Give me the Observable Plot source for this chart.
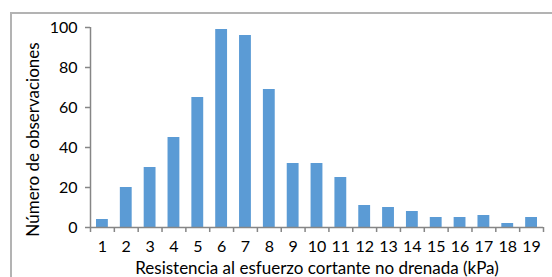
<!DOCTYPE html>
<html>
<head>
<meta charset="utf-8">
<script src="https://cdn.jsdelivr.net/npm/d3@7"></script>
<script src="https://cdn.jsdelivr.net/npm/@observablehq/plot@0.6"></script>
<style>
  html, body { margin: 0; padding: 0; background: #fff; }
  #wrap { position: relative; width: 552px; height: 277px; overflow: hidden; }
  #border { position: absolute; left: 10px; top: 12px; width: 600px; height: 300px;
            border-left: 2px solid #b3b3b3; border-top: 2px solid #b3b3b3; box-sizing: border-box; }
</style>
</head>
<body>
<div id="wrap"><div id="border"></div></div>
<script>
const categories = [1,2,3,4,5,6,7,8,9,10,11,12,13,14,15,16,17,18,19];
const counts = [4,20,30,45,65,99,96,69,32,32,25,11,10,8,5,5,6,2,5];
const yTicks = [0,20,40,60,80,100];
const xLabel = "Resistencia al esfuerzo cortante no drenada (kPa)";
const yLabel = "Número de observaciones";

const data = categories.map((k, i) => ({k, n: counts[i]}));
const boundaries = d3.range(categories[0] - 0.5, categories[categories.length - 1] + 1, 1);
const axisColor = "#868686";

const chart = Plot.plot({
  width: 552,
  height: 277,
  marginLeft: 90,
  marginRight: 9,
  marginTop: 27,
  marginBottom: 50,
  style: {fontFamily: "Lato, sans-serif", fontSize: "16px", color: "#000", background: "transparent"},
  x: {domain: [0.5, 19.5]},
  y: {domain: [0, 100]},
  marks: [
    Plot.rectY(data, {x1: d => d.k - 0.5, x2: d => d.k + 0.5, y: "n", insetLeft: 6, insetRight: 6, fill: "#5B9BD5"}),
    Plot.ruleX([0.5], {stroke: axisColor, strokeWidth: 1.5}),
    Plot.ruleY([0], {stroke: axisColor, strokeWidth: 1.5}),
    Plot.axisY({ticks: yTicks, tickSize: 5, tickPadding: 8, stroke: axisColor, strokeWidth: 1.5, fill: "#000",
                label: null, fontSize: 16}),
    Plot.axisX(boundaries, {tickSize: 5, tickFormat: () => "", stroke: axisColor, strokeWidth: 1.5, label: null}),
    Plot.axisX(categories, {tickSize: 0, tickPadding: 13, fill: "#000", fontSize: 16, label: null}),
    Plot.text([xLabel], {frameAnchor: "bottom", lineAnchor: "middle", textAnchor: "middle", dy: 41, fontSize: 17, fill: "#000"}),
    Plot.text([yLabel], {frameAnchor: "left", lineAnchor: "middle", textAnchor: "middle", dx: -57, dy: 12, rotate: -90, fontSize: 17, fill: "#000"})
  ]
});
document.getElementById("wrap").prepend(chart);
</script>
</body>
</html>
